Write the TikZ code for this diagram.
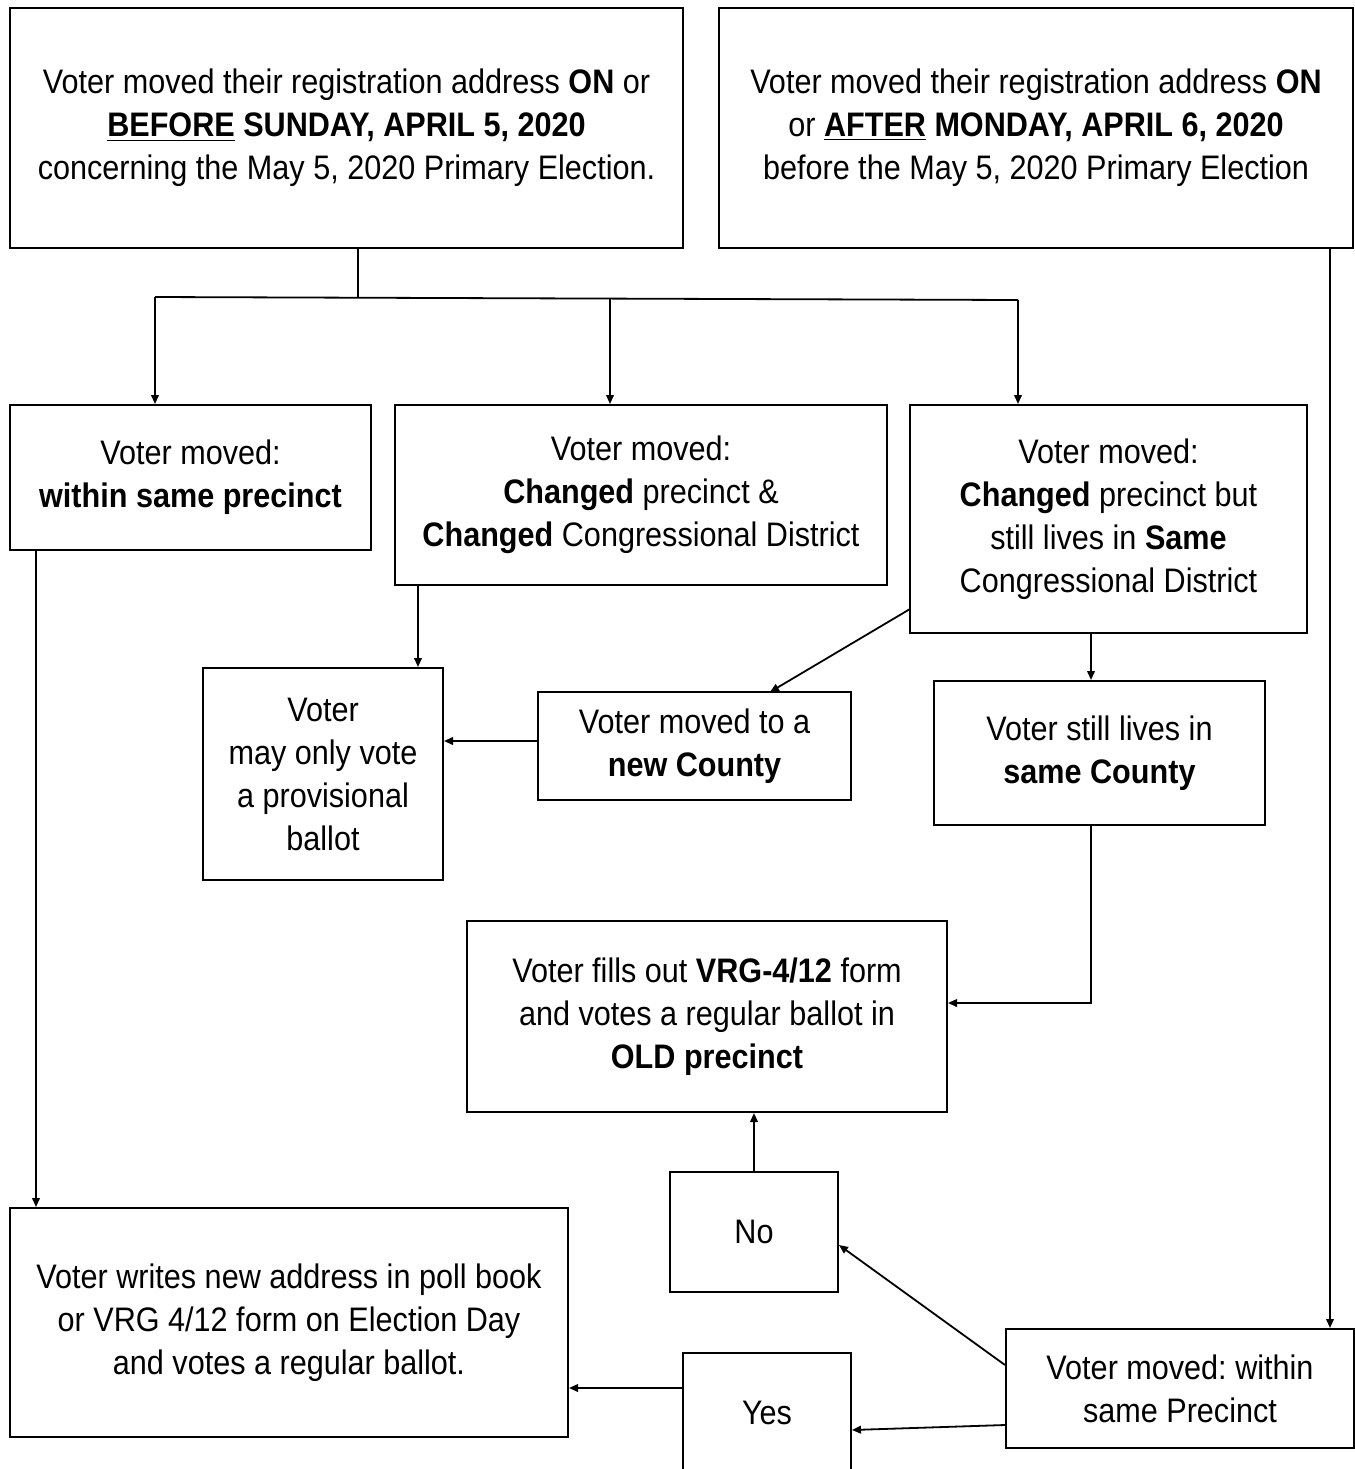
\documentclass[tikz,border=0pt]{standalone}
\usepackage{fontspec}
\setmainfont[FakeStretch=0.9]{Liberation Sans}
\usetikzlibrary{arrows.meta}
\frenchspacing
\tikzset{
  box/.style={draw, line width=1pt, align=center, inner sep=0pt, font=\fontsize{17pt}{21.5pt}\selectfont},
  arr/.style={line width=0.9pt, -{Triangle[length=4.5pt,width=3.8pt]}},
  conn/.style={line width=0.9pt}
}
\begin{document}
\begin{tikzpicture}[x=0.5pt,y=-0.5pt]
\useasboundingbox (0,0) rectangle (1355,1469);
\clip (0,0) rectangle (1355,1469);
\fill[white] (0,0) rectangle (1355,1469);
% boxes
\node[box, minimum width=336.5pt, minimum height=120pt] (A) at (346.5,128)
  {Voter moved their registration address \textbf{ON} or\\
   \underline{\textbf{BEFORE}} \textbf{SUNDAY, APRIL 5, 2020}\\
   concerning the May 5, 2020 Primary Election.};
\node[box, minimum width=317pt, minimum height=120pt] (B) at (1036,128)
  {Voter moved their registration address \textbf{ON}\\
   or \underline{\textbf{AFTER}} \textbf{MONDAY, APRIL 6, 2020}\\
   before the May 5, 2020 Primary Election};
\node[box, minimum width=180.5pt, minimum height=72.5pt] (C) at (190.5,477.5)
  {Voter moved:\\ \textbf{within same precinct}};
\node[box, minimum width=246pt, minimum height=90pt] (D) at (641,495)
  {Voter moved:\\ \textbf{Changed} precinct \&\\ \textbf{Changed} Congressional District};
\node[box, minimum width=198.5pt, minimum height=114pt] (E) at (1108.5,519)
  {Voter moved:\\ \textbf{Changed} precinct but\\ still lives in \textbf{Same}\\ Congressional District};
\node[box, minimum width=120pt, minimum height=106pt] (F) at (323,774)
  {Voter\\ may only vote\\ a provisional\\ ballot};
\node[box, minimum width=156.5pt, minimum height=54pt] (G) at (694.5,746)
  {Voter moved to a\\ \textbf{new County}};
\node[box, minimum width=165.5pt, minimum height=72pt] (H) at (1099.5,753)
  {Voter still lives in\\ \textbf{same County}};
\node[box, minimum width=240pt, minimum height=95.5pt] (I) at (707,1016.5)
  {Voter fills out \textbf{VRG-4/12} form\\ and votes a regular ballot in\\ \textbf{OLD precinct}};
\node[box, minimum width=84pt, minimum height=60pt] (J) at (754,1232) {No};
\node[box, minimum width=279pt, minimum height=114.5pt] (K) at (289,1322.5)
  {Voter writes new address in poll book\\ or VRG 4/12 form on Election Day\\ and votes a regular ballot.};
\node[box, minimum width=84pt, minimum height=60pt] (L) at (767,1413) {Yes};
\node[box, minimum width=174pt, minimum height=59.5pt] (M) at (1180,1388.5)
  {Voter moved: within\\ same Precinct};
% junction coordinates
\coordinate (split) at (358,297);
\coordinate (sL) at (155,297);
\coordinate (sM) at (610,298.5);
\coordinate (sR) at (1018,300);
\coordinate (bx) at (1330,248);
\coordinate (fx) at (418,0);
\coordinate (eg) at (910,609);
\coordinate (gt) at (770,692);
\coordinate (hx) at (1091,0);
\coordinate (cx) at (36,0);
% connectors
\draw[conn] (A.south -| split) -- (split);
\draw[conn] (sL) -- (sR);
\draw[arr] (sL) -- (sL |- C.north);
\draw[arr] (sM) -- (sM |- D.north);
\draw[arr] (sR) -- (sR |- E.north);
\draw[arr] (B.south -| bx) -- (M.north -| bx);
\draw[arr] (D.south -| fx) -- (F.north -| fx);
\draw[arr] (eg) -- (gt);
\draw[arr] (G.west |- 0,741) -- (F.east |- 0,741);
\draw[arr] (E.south -| hx) -- (H.north -| hx);
\draw[arr] (H.south -| hx) |- (I.east |- 0,1003);
\draw[arr] (J.north) -- (I.south -| J.north);
\draw[arr] (M.west |- 0,1365) -- (J.east |- 0,1245);
\draw[arr] (M.west |- 0,1425) -- (L.east |- 0,1430);
\draw[arr] (L.west |- 0,1388) -- (K.east |- 0,1388);
\draw[arr] (C.south -| cx) -- (K.north -| cx);
\end{tikzpicture}
\end{document}
